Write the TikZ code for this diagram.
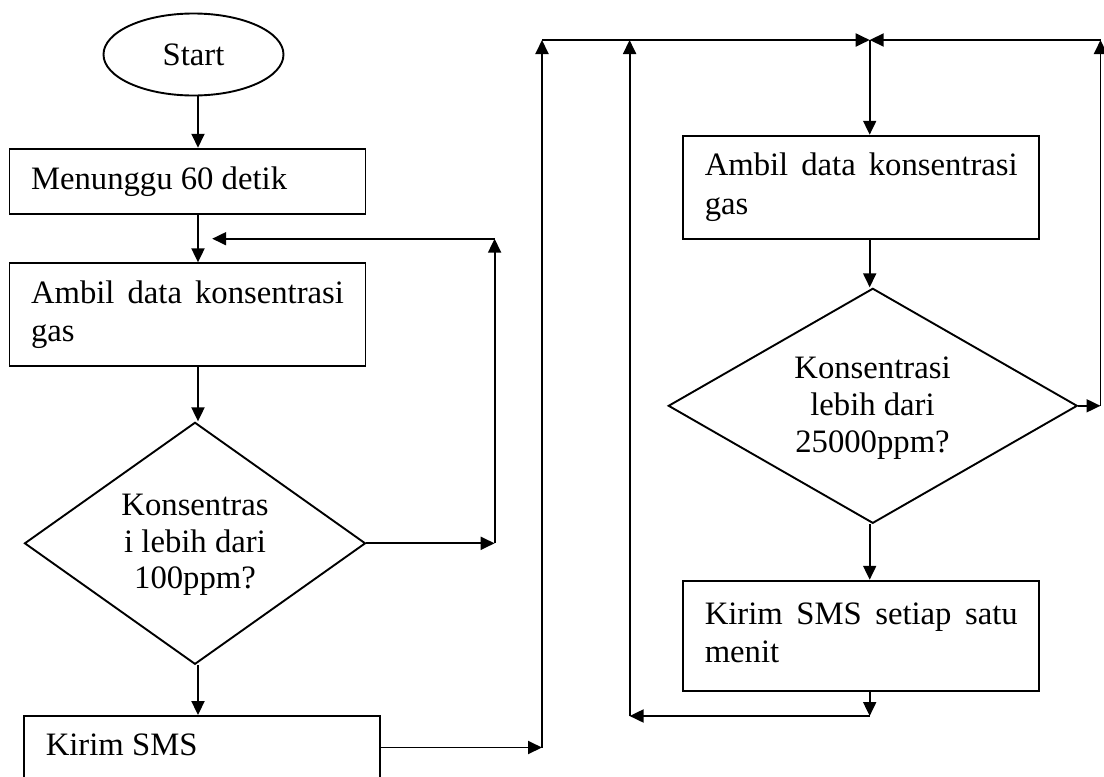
\documentclass[tikz,border=0pt]{standalone}
\usepackage{fontspec}
\setmainfont{Liberation Serif}
\usetikzlibrary{shapes.geometric,arrows.meta}
\tolerance=10000
\hbadness=10000
\begin{document}
\begin{tikzpicture}[x=1pt,y=-1pt,
  every node/.style={font=\fontsize{32.7}{38.3}\selectfont},
  conn/.style={line width=1.9pt, -{Triangle[length=14pt,width=13pt]}},
  procbox/.style={draw, line width=1.9pt, rectangle, inner xsep=21.5pt, inner ysep=0pt, text width=313pt, align=justify},
  decision/.style={draw, line width=1.9pt, diamond, inner sep=0pt},
  terminal/.style={draw, line width=1.9pt, ellipse, inner sep=0pt, minimum width=180pt, minimum height=82pt},
  qtext/.style={align=center, inner sep=0pt, font=\fontsize{32.7}{36.7}\selectfont}
]
\useasboundingbox (0,0) rectangle (1104,777);
\fill[white] (0,0) rectangle (1104,777);

% nodes
\node[terminal] (start) at (193.5,54.5) {Start};
\node[procbox, minimum height=65.3pt] (wait) at (187.5,181.35) {\strut Menunggu 60 detik\strut};
\node[procbox, minimum height=102.7pt] (read1) at (187.5,314.65) {\strut Ambil data konsentrasi gas\strut};
\node[decision, minimum width=341pt, minimum height=242pt] (dec1) at (195,543.3) {};
\node[qtext] (dec1t) at (195,545) {Konsentras\\i lebih dari\\100ppm?};
\node[procbox, minimum height=63pt] (sms1) at (202.3,747.5) {\strut Kirim SMS\strut};
\node[procbox, minimum height=103.3pt] (read2) at (861.25,187.35) {\strut Ambil data konsentrasi gas\strut};
\node[decision, minimum width=409pt, minimum height=235pt] (dec2) at (872.8,405.8) {};
\node[qtext] (dec2t) at (872.5,408.3) {Konsentrasi\\lebih dari\\25000ppm?};
\node[procbox, minimum height=110pt] (sms2) at (861.25,635.7) {\strut Kirim SMS setiap satu menit\strut};

% helper coordinates
\coordinate (colL) at (198,0);
\coordinate (colR) at (869.7,0);
\coordinate (fbx) at (494.6,238.7);
\coordinate (fbend) at (212.2,238.7);
\coordinate (upA) at (542,40);
\coordinate (topM) at (869.7,40);
\coordinate (botM) at (869.7,716);
\coordinate (loopB) at (629.6,716);
\coordinate (loopT) at (629.6,40);
\coordinate (rtx) at (1100.5,40);

% left column
\draw[conn] (start.south -| colL) -- (wait.north -| colL);
\draw[conn] (wait.south -| colL) -- (read1.north -| colL);
\draw[conn] (read1.south -| colL) -- (dec1.north -| colL);
\draw[conn] (dec1.south -| colL) -- (sms1.north -| colL);
% first loop
\draw[conn] (dec1.east) -- (dec1.east -| fbx);
\draw[conn] (dec1.east -| fbx) -- (fbx);
\draw[conn] (fbx) -- (fbend);
% to right part
\draw[conn] (sms1.east) -- (sms1.east -| upA);
\draw[conn] (sms1.east -| upA) -- (upA);
\draw[conn] (upA) -- (topM);
\draw[conn] (topM) -- (read2.north -| topM);
\draw[conn] (read2.south -| colR) -- (dec2.north -| colR);
\draw[conn] (dec2.south -| colR) -- (sms2.north -| colR);
\draw[conn] (sms2.south -| colR) -- (botM);
\draw[conn] (botM) -- (loopB);
\draw[conn] (loopB) -- (loopT);
% second loop
\draw[conn] (dec2.east) -- (dec2.east -| rtx);
\draw[conn] (dec2.east -| rtx) -- (rtx);
\draw[conn] (rtx) -- (topM);
\end{tikzpicture}
\end{document}
